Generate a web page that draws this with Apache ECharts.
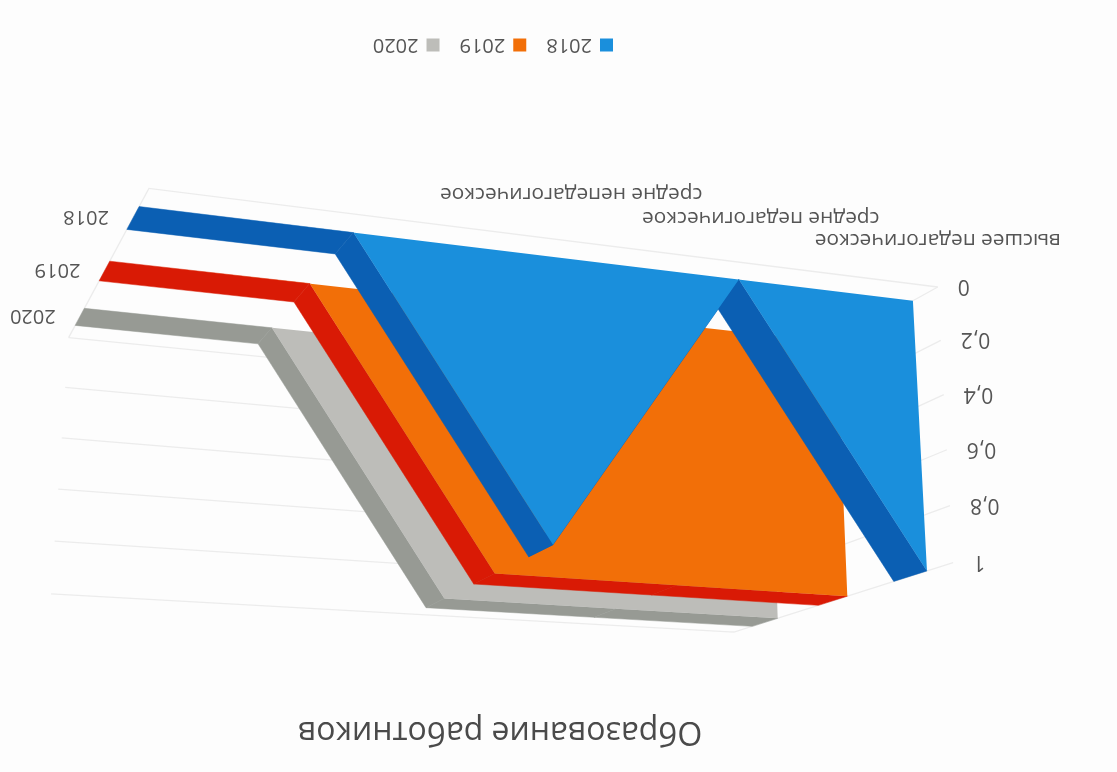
<!DOCTYPE html>
<html><head><meta charset="utf-8">
<style>html,body{margin:0;background:#fdfdfd}#c{position:absolute;left:0;top:0;width:1117px;height:772px;transform:rotate(180deg)}</style>
<script src="https://cdn.jsdelivr.net/npm/echarts@6/dist/echarts.min.js"></script>
</head><body><div id="c"></div>
<script>
const categories=['высшее педагогическое','средне педагогическое','средне непедагогическое','',''];
const years=['2018','2019','2020'];
const v2018=[1,0,1,0,0];
const v2019=[1,1,1,0,0];
const v2020=[1,1,1,0,0];
const ticks=[0,0.2,0.4,0.6,0.8,1];
const tickLabels=['0','0,2','0,4','0,6','0,8','1'];
// perspective camera: (category, value, depth) -> page position
const M=[-0.19795,-0.02049,-0.01798,0.91290,-0.03025,0.24885,0.06566,0.30075,-0.03241,-0.03727,0.06929];
const gapW=0.4,zFront=-0.3,zBack=2.7;
function proj(x,v,z){const w=M[8]*x+M[9]*v+M[10]*z+1;
 return [1117-1000*(M[0]*x+M[1]*v+M[2]*z+M[3])/w, 772-1000*(M[4]*x+M[5]*v+M[6]*z+M[7])/w];}
const font='"Open Sans"',txt='#555555',gridCol='#ececec';
function yearSeries(name,vals,k,face,rib,zz){return {type:'custom',name,coordinateSystem:'cartesian2d',z:zz,itemStyle:{color:face},silent:true,
 data:vals.map((v,i)=>[i,v]),
 renderItem(p,api){const i=api.value(0),v=api.value(1);if(i>=vals.length-1)return null;const n=vals[i+1];
  const P=(a,b,z)=>api.coord(proj(a,b,z));const ch=[];
  ch.push({type:'polygon',z2:1,shape:{points:[P(i,v,k),P(i+1,n,k),P(i+1,n,k+gapW),P(i,v,k+gapW)]},style:{fill:rib,stroke:rib,lineWidth:.5}});
  if(i===0){const pts=vals.map((u,a)=>P(a,u,k));pts.push(P(vals.length-1,0,k),P(0,0,k));
   ch.push({type:'polygon',z2:2,shape:{points:pts},style:{fill:face}});}
  return {type:'group',children:ch};}};}
const gridSeries={type:'custom',coordinateSystem:'cartesian2d',z:0,silent:true,data:ticks.map((t,i)=>[t,i]),
 renderItem(p,api){const t=api.value(0);const P=(a,b,z)=>api.coord(proj(a,b,z));
  const ch=[{type:'polyline',shape:{points:[P(0,t,zFront),P(0,t,zBack),P(4,t,zBack)]},style:{fill:'none',stroke:gridCol,lineWidth:1.3}}];
  if(t===0)ch.push({type:'polyline',shape:{points:[P(0,0,zFront),P(4,0,zFront),P(4,0,zBack)]},style:{fill:'none',stroke:gridCol,lineWidth:1.3}});
  const q=P(0,t,zFront);
  ch.push({type:'text',style:{text:tickLabels[api.value(1)],x:q[0]-20,y:q[1]+1,align:'right',verticalAlign:'middle',fontFamily:font,fontSize:21,fill:txt}});
  return {type:'group',children:ch};}};
const catSeries={type:'custom',coordinateSystem:'cartesian2d',z:0,silent:true,data:categories.map((c,i)=>[i]),
 renderItem(p,api){const i=api.value(0);if(!categories[i])return null;const q=api.coord(proj(i,0,zFront));
  return {type:'text',style:{text:categories[i],x:q[0],y:q[1]+47,align:'center',verticalAlign:'middle',fontFamily:font,fontSize:20.8,fill:txt}};}};
const depthSeries={type:'custom',coordinateSystem:'cartesian2d',z:0,silent:true,data:years.map((c,i)=>[i]),
 renderItem(p,api){const k=api.value(0);const q=api.coord(proj(4,0,k+gapW/2));
  return {type:'text',style:{text:years[k],x:q[0]+24,y:q[1]+1,align:'left',verticalAlign:'middle',fontFamily:font,fontSize:20,fill:txt}};}};
echarts.init(document.getElementById('c')).setOption({animation:false,backgroundColor:'#fdfdfd',
 title:{text:'Образование работников',left:612,top:20,textAlign:'center',textStyle:{fontFamily:font,fontSize:32,fontWeight:'normal',color:'#4a4a4a'}},
 legend:{data:years,left:499,top:712,icon:'rect',itemWidth:13,itemHeight:13,itemGap:20,selectedMode:false,textStyle:{fontFamily:font,fontSize:20,color:txt,padding:[0,0,0,3]}},
 grid:{left:0,right:0,top:0,bottom:0},
 xAxis:{type:'value',min:0,max:1117,show:false},
 yAxis:{type:'value',min:0,max:772,inverse:true,show:false},
 series:[gridSeries,catSeries,depthSeries,
  yearSeries('2020',v2020,2,'#bdbdb9','#979a94',1),
  yearSeries('2019',v2019,1,'#f26f08','#d91a05',2),
  yearSeries('2018',v2018,0,'#1a8fdc','#0b5fb3',3)]});
</script></body></html>
